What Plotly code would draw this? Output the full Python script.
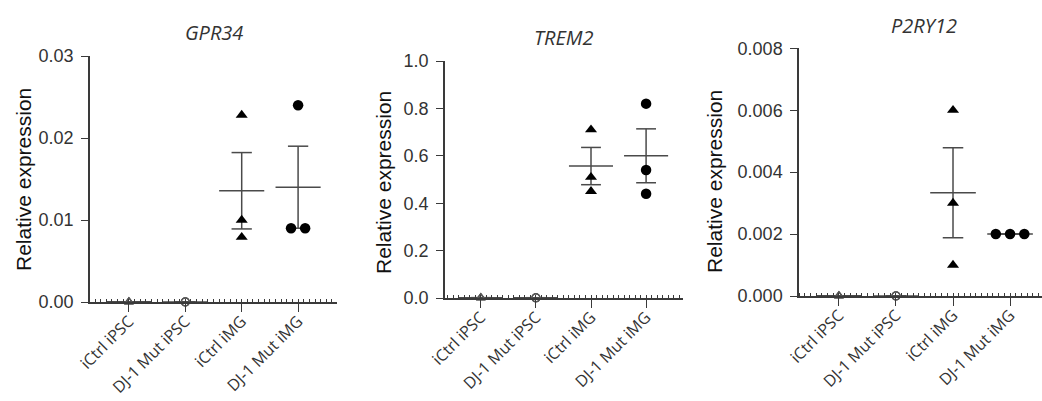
import numpy as np
import plotly.graph_objects as go

# ---------------- data ----------------
categories = ["iCtrl iPSC", "DJ-1 Mut iPSC", "iCtrl iMG", "DJ-1 Mut iMG"]
genes = ["GPR34", "TREM2", "P2RY12"]

gpr34_ictrl_ipsc = [0.00003, 0.00002, 0.00001]
gpr34_mut_ipsc = [0.00002, 0.00001, 0.0]
gpr34_ictrl_img = [0.0228, 0.0100, 0.0079]
gpr34_mut_img = [0.0240, 0.0090, 0.0090]

trem2_ictrl_ipsc = [0.002, 0.001, 0.0005]
trem2_mut_ipsc = [0.0015, 0.001, 0.0]
trem2_ictrl_img = [0.71, 0.51, 0.45]
trem2_mut_img = [0.82, 0.54, 0.44]

p2ry12_ictrl_ipsc = [0.00001, 0.000005, 0.0]
p2ry12_mut_ipsc = [0.000008, 0.000004, 0.0]
p2ry12_ictrl_img = [0.0060, 0.0030, 0.0010]
p2ry12_mut_img = [0.0020, 0.0020, 0.0020]

y_ticks_gpr34 = [0.0, 0.01, 0.02, 0.03]
y_ticks_trem2 = [0.0, 0.2, 0.4, 0.6, 0.8, 1.0]
y_ticks_p2ry12 = [0.0, 0.002, 0.004, 0.006, 0.008]

panels = [
    (genes[0], [gpr34_ictrl_ipsc, gpr34_mut_ipsc, gpr34_ictrl_img, gpr34_mut_img], y_ticks_gpr34, 2),
    (genes[1], [trem2_ictrl_ipsc, trem2_mut_ipsc, trem2_ictrl_img, trem2_mut_img], y_ticks_trem2, 1),
    (genes[2], [p2ry12_ictrl_ipsc, p2ry12_mut_ipsc, p2ry12_ictrl_img, p2ry12_mut_img], y_ticks_p2ry12, 3),
]

# ---------------- layout geometry (pixels) ----------------
W, H = 1042, 401
geom = [
    dict(x0=90, x1=337, yb=302, yt=56, xr=[-0.69, 3.69], ty=32, yx=23, yy=180),
    dict(x0=445, x1=683, yb=298, yt=61, xr=[-0.65, 3.67], ty=38, yx=383, yy=183),
    dict(x0=799, x1=1042, yb=296, yt=48.3, xr=[-0.7, 3.56], ty=25, yx=715, yy=182),
]

symbols = ["triangle-up-open", "circle-open", "triangle-up", "circle"]
AX = "#3a3a3a"
BAR = "#4a4a4a"

fig = go.Figure()
annotations = []

for p, (gene, groups, yticks, dec) in enumerate(panels):
    g = geom[p]
    sfx = "" if p == 0 else str(p + 1)
    xa, ya = "x" + sfx, "y" + sfx
    for i, vals in enumerate(groups):
        v = np.array(vals, dtype=float)
        m = v.mean()
        s = v.std(ddof=1) / np.sqrt(len(v))
        # mean line
        fig.add_trace(go.Scatter(x=[i - 0.4, i + 0.4], y=[m, m], mode="lines",
                                 line=dict(color=BAR, width=1.5), xaxis=xa, yaxis=ya,
                                 showlegend=False, hoverinfo="skip", cliponaxis=False))
        # SEM bar with caps
        fig.add_trace(go.Scatter(
            x=[i, i, None, i - 0.18, i + 0.18, None, i - 0.18, i + 0.18],
            y=[m - s, m + s, None, m + s, m + s, None, m - s, m - s],
            mode="lines", line=dict(color=BAR, width=1.5), xaxis=xa, yaxis=ya,
            showlegend=False, hoverinfo="skip", cliponaxis=False))
        # spread identical values horizontally (scatter dot plot)
        xs = []
        for k, val in enumerate(v):
            same = [j for j in range(len(v)) if v[j] == val]
            pos = same.index(k)
            xs.append(i + (pos - (len(same) - 1) / 2) * 0.25)
        is_open = i < 2
        fig.add_trace(go.Scatter(
            x=xs, y=v, mode="markers", xaxis=xa, yaxis=ya, showlegend=False,
            cliponaxis=False,
            marker=dict(symbol=symbols[i], size=8 if is_open else 10.5,
                        color="#555555" if is_open else "black",
                        line=dict(width=1.2 if is_open else 0, color="#555555"))))

    dom_x = [g["x0"] / W, g["x1"] / W]
    dom_y = [1 - g["yb"] / H, 1 - g["yt"] / H]
    fig.layout["xaxis" + sfx] = dict(
        domain=dom_x, range=g["xr"], anchor=ya, tickmode="array", automargin=False,
        tickvals=list(range(len(categories))), ticktext=categories,
        tickangle=-45, ticks="outside", ticklen=8, tickwidth=1.3, tickcolor=AX,
        showline=True, linecolor=AX, linewidth=1.5, showgrid=False, zeroline=False,
        tickfont=dict(family="Open Sans", size=16, color="#333333"),
        ticklabelstandoff=-6,
        minor=dict(dtick=0.1, tick0=0, ticks="inside", ticklen=3, tickwidth=1, tickcolor=AX,
                   showgrid=False),
        fixedrange=True)
    fig.layout["yaxis" + sfx] = dict(
        domain=dom_y, range=[0, yticks[-1]], anchor=xa, tickmode="array", automargin=False,
        tickvals=yticks, ticktext=[format(t, "." + str(dec) + "f") for t in yticks],
        ticks="outside", ticklen=7, tickwidth=1.3, tickcolor=AX,
        showline=True, linecolor=AX, linewidth=1.5, showgrid=False, zeroline=False,
        tickfont=dict(family="Liberation Sans, Arial", size=18, color="#333333"),
        ticklabelstandoff=4, fixedrange=True)
    annotations.append(dict(text="<i>" + gene + "</i>", x=(g["x0"] + max(g["x1"], 1049)) / 2 / W
                            if p == 2 else (g["x0"] + g["x1"]) / 2 / W,
                            y=1 - g["ty"] / H, xref="paper", yref="paper", showarrow=False,
                            xanchor="center", yanchor="middle",
                            font=dict(family="Open Sans", size=20, color="#333333")))
    annotations.append(dict(text="Relative expression", x=g["yx"] / W, y=1 - g["yy"] / H,
                            xref="paper", yref="paper", showarrow=False, textangle=-90,
                            xanchor="center", yanchor="middle",
                            font=dict(family="Liberation Sans, Arial", size=21, color="#111111")))

fig.update_layout(width=W, height=H, margin=dict(l=0, r=0, t=0, b=0),
                  paper_bgcolor="white", plot_bgcolor="white",
                  annotations=annotations, showlegend=False)

fig.write_html("out.html", config={"displayModeBar": False},
               post_script="document.body.style.margin='0';document.body.style.overflow='hidden';")
